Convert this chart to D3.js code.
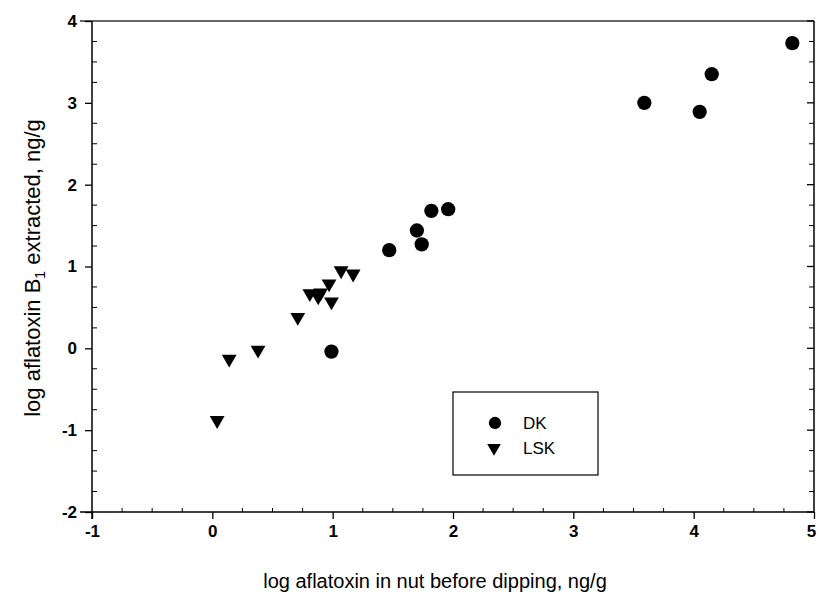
<!DOCTYPE html>
<html>
<head>
<meta charset="utf-8">
<script src="https://cdn.jsdelivr.net/npm/d3@7"></script>
<style>
  html, body { margin: 0; padding: 0; background: #fff; }
  svg { display: block; font-family: "Liberation Sans", Arial, sans-serif; }
</style>
</head>
<body>
<svg id="chart" width="817" height="597"></svg>
<script>
// ---- data ----
const dkX = [0.99, 1.47, 1.70, 1.74, 1.82, 1.96, 3.59, 4.05, 4.15, 4.82];
const dkY = [-0.04, 1.20, 1.44, 1.27, 1.68, 1.70, 3.00, 2.89, 3.35, 3.73];
const lskX = [0.04, 0.14, 0.38, 0.71, 0.81, 0.88, 0.90, 0.97, 0.99, 1.07, 1.17];
const lskY = [-0.88, -0.13, -0.02, 0.38, 0.67, 0.63, 0.68, 0.79, 0.57, 0.95, 0.91];
const xTicks = [-1, 0, 1, 2, 3, 4, 5];
const yTicks = [-2, -1, 0, 1, 2, 3, 4];
const seriesNames = ["DK", "LSK"];
const xTitle = "log aflatoxin in nut before dipping, ng/g";

// ---- layout ----
const svg = d3.select("#chart");
const L = 92, R = 814, T = 21, B = 512;
const x = d3.scaleLinear().domain([-1, 5]).range([L, R]);
const y = d3.scaleLinear().domain([-2, 4]).range([B, T]);
const fmt = d => String(d);

const minorX = d3.range(-1, 5.0001, 0.25).filter(v => Math.abs(v - Math.round(v)) > 1e-6);
const minorY = d3.range(-2, 4.0001, 0.25).filter(v => Math.abs(v - Math.round(v)) > 1e-6);

const stroke = "#000";

// frame top
svg.append("line").attr("x1", L - 12).attr("x2", R).attr("y1", T).attr("y2", T)
  .attr("stroke", "#333").attr("stroke-width", 1.3);

// left axis
const gl = svg.append("g").attr("transform", `translate(${L},0)`)
  .call(d3.axisLeft(y).tickValues(yTicks).tickSize(7).tickPadding(8).tickFormat(fmt));
gl.select(".domain").remove();
gl.append("line").attr("x1", 0).attr("x2", 0).attr("y1", T).attr("y2", B + 7).attr("stroke", stroke).attr("stroke-width", 1.5);
gl.selectAll(".tick line").attr("stroke", stroke).attr("stroke-width", 1.3);
gl.selectAll(".tick text").attr("font-size", 17).attr("fill", "#000").attr("font-weight", "bold");
gl.selectAll(".minor").data(minorY).enter().append("line")
  .attr("x1", 0).attr("x2", 5).attr("y1", d => y(d)).attr("y2", d => y(d))
  .attr("stroke", stroke).attr("stroke-width", 1);

// bottom axis
const gb = svg.append("g").attr("transform", `translate(0,${B})`)
  .call(d3.axisBottom(x).tickValues(xTicks).tickSize(7).tickPadding(6).tickFormat(fmt));
gb.select(".domain").remove();
gb.append("line").attr("x1", L - 12).attr("x2", R).attr("y1", 0).attr("y2", 0).attr("stroke", stroke).attr("stroke-width", 1.5);
gb.selectAll(".tick line").attr("stroke", stroke).attr("stroke-width", 1.3);
gb.selectAll(".tick text").attr("font-size", 17).attr("fill", "#000").attr("font-weight", "bold")
  .attr("dx", d => d === 5 ? -3 : 0);
gb.selectAll(".minor").data(minorX).enter().append("line")
  .attr("x1", d => x(d)).attr("x2", d => x(d)).attr("y1", 0).attr("y2", -4)
  .attr("stroke", stroke).attr("stroke-width", 1);

// right axis
const gr = svg.append("g").attr("transform", `translate(${R},0)`);
gr.append("line").attr("x1", 0).attr("x2", 0).attr("y1", T).attr("y2", B).attr("stroke", stroke).attr("stroke-width", 1.5);
gr.selectAll(".maj").data(yTicks).enter().append("line")
  .attr("x1", 0).attr("x2", -7).attr("y1", d => y(d)).attr("y2", d => y(d)).attr("stroke", stroke).attr("stroke-width", 1.3);
gr.selectAll(".min").data(minorY).enter().append("line")
  .attr("x1", 0).attr("x2", -5).attr("y1", d => y(d)).attr("y2", d => y(d)).attr("stroke", stroke).attr("stroke-width", 1);

// axis titles
svg.append("text").attr("x", (L + R) / 2 - 18).attr("y", 588).attr("text-anchor", "middle")
  .attr("font-size", 20).attr("fill", "#000").text(xTitle);
const yt = svg.append("text").attr("transform", `translate(40,268) rotate(-90)`)
  .attr("text-anchor", "middle").attr("font-size", 22).attr("fill", "#000");
yt.append("tspan").text("log aflatoxin B");
yt.append("tspan").attr("font-size", 14).attr("dy", 5).text("1");
yt.append("tspan").attr("dy", -5).text(" extracted, ng/g");

// data
const circ = d3.symbol().type(d3.symbolCircle).size(160);
const tri = d3.symbol().type(d3.symbolTriangle).size(95);
const dk = dkX.map((v, i) => ({ x: v, y: dkY[i] }));
const lsk = lskX.map((v, i) => ({ x: v, y: lskY[i] }));
svg.append("g").selectAll("path").data(dk).enter().append("path")
  .attr("d", circ).attr("transform", d => `translate(${x(d.x)},${y(d.y)})`).attr("fill", "#000");
svg.append("g").selectAll("path").data(lsk).enter().append("path")
  .attr("d", tri).attr("transform", d => `translate(${x(d.x)},${y(d.y)}) rotate(180)`).attr("fill", "#000");

// legend
const lg = svg.append("g");
lg.append("rect").attr("x", 453).attr("y", 392).attr("width", 145).attr("height", 83)
  .attr("fill", "none").attr("stroke", "#000").attr("stroke-width", 1.2);
lg.append("path").attr("d", d3.symbol().type(d3.symbolCircle).size(120)).attr("transform", "translate(495,423)");
lg.append("path").attr("d", d3.symbol().type(d3.symbolTriangle).size(80)).attr("transform", "translate(494,448) rotate(180)");
lg.append("text").attr("x", 523).attr("y", 429).attr("font-size", 17).text(seriesNames[0]);
lg.append("text").attr("x", 523).attr("y", 454).attr("font-size", 17).text(seriesNames[1]);
</script>
</body>
</html>
